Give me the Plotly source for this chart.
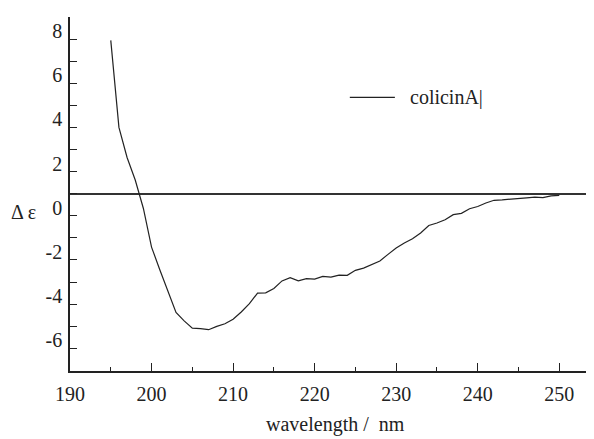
import plotly.graph_objects as go

# wavelength (nm) and CD signal (delta epsilon)
wavelength = list(range(195, 251))
delta_eps = [6.94, 3.00, 1.64, 0.62, -0.67, -2.42, -3.43, -4.45, -5.38, -5.76,
             -6.09, -6.11, -6.16, -6.01, -5.89, -5.69, -5.36, -4.98, -4.50, -4.49,
             -4.29, -3.95, -3.80, -3.95, -3.85, -3.87, -3.75, -3.78, -3.69, -3.70,
             -3.47, -3.37, -3.20, -3.05, -2.75, -2.46, -2.23, -2.04, -1.78, -1.44,
             -1.33, -1.18, -0.95, -0.89, -0.68, -0.58, -0.42, -0.30, -0.28, -0.24,
             -0.21, -0.19, -0.16, -0.18, -0.10, -0.08]

x_ticks = [190, 200, 210, 220, 230, 240, 250]
y_ticks = [-6, -4, -2, 0, 2, 4, 6, 8]
y_ticktext = ["-6", "-4", "-2", "0", "2", "4", "6", "8"]
series_name = "colicinA"

FONT = "Liberation Serif"
INK = "#222222"

fig = go.Figure()
fig.add_trace(go.Scatter(x=wavelength, y=delta_eps, mode="lines", name=series_name,
                         line=dict(color=INK, width=1.2), showlegend=False))

fig.update_layout(
    width=586, height=431,
    margin=dict(l=62, r=0, t=9, b=68),
    paper_bgcolor="white", plot_bgcolor="white",
    font=dict(family=FONT, size=20, color=INK),
    xaxis=dict(range=[190, 254.26], showline=True, linecolor=INK, linewidth=1.5,
               showgrid=False, zeroline=False,
               tickmode="array", tickvals=x_ticks, ticks="inside", ticklen=8,
               tickcolor=INK, tickwidth=1,
               minor=dict(dtick=5, tick0=190, ticks="inside", ticklen=4, tickcolor=INK, showgrid=False),
               tickfont=dict(family=FONT, size=20, color=INK),
               ticklabelstandoff=4),
    yaxis=dict(range=[-8.03, 8.0], showline=True, linecolor=INK, linewidth=1.5,
               showgrid=False, zeroline=True, zerolinecolor="#333333", zerolinewidth=1.5,
               tickmode="array", tickvals=y_ticks, ticktext=y_ticktext,
               ticks="inside", ticklen=7, tickcolor=INK, tickwidth=1,
               minor=dict(dtick=1, tick0=0, ticks="inside", ticklen=7, tickcolor=INK, showgrid=False),
               tickfont=dict(family=FONT, size=20, color=INK),
               ticklabelshift=14, ticklabelstandoff=2),
    annotations=[
        dict(text="wavelength /\u00a0\u00a0nm", xref="paper", yref="paper", x=0.506, y=-0.152,
             showarrow=False, xanchor="center", yanchor="middle",
             font=dict(family=FONT, size=20, color=INK)),
        dict(text="Δ ε", xref="paper", yref="paper", x=-0.088, y=0.449,
             showarrow=False, xanchor="center", yanchor="middle",
             font=dict(family=FONT, size=20, color=INK)),
        dict(text=series_name + "|", xref="paper", yref="paper", x=0.645, y=0.773,
             showarrow=False, xanchor="left", yanchor="middle",
             font=dict(family=FONT, size=20, color=INK)),
    ],
    shapes=[
        dict(type="line", xref="paper", yref="paper", x0=0.534, x1=0.620, y0=0.773, y1=0.773,
             line=dict(color=INK, width=1.2)),
    ],
)

fig.write_html("out.html")
